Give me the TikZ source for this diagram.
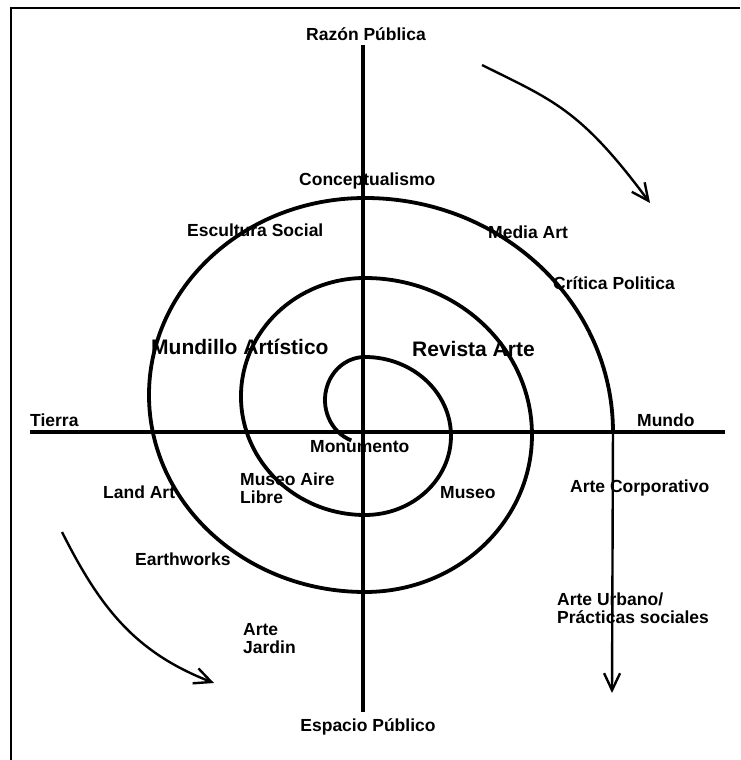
\documentclass[tikz,border=0pt]{standalone}
\usepackage{fontspec}
\setmainfont{Liberation Sans}
\usetikzlibrary{arrows.meta}
\tikzset{
  lbl/.style={inner sep=0pt, font=\fontsize{17.5}{18}\selectfont\bfseries, align=left},
  biglbl/.style={inner sep=0pt, font=\fontsize{21}{22}\selectfont\bfseries},
  axis/.style={line width=3.2pt},
  spiralline/.style={line width=3.8pt},
  flow/.style={line width=2.4pt, -{Straight Barb[length=17pt,width=16pt,line width=2.4pt]}},
  frameline/.style={line width=2pt}
}
\begin{document}
\begin{tikzpicture}[x=1pt,y=-1pt]
\useasboundingbox (0,0) rectangle (740,760);
% frame (top and left)
\coordinate (fa) at (11,760);
\coordinate (fb) at (11,8);
\coordinate (fc) at (740,8);
\draw[frameline] (fa) -- (fb) -- (fc);
% axes
\coordinate (vtop) at (363,45);
\coordinate (vbot) at (363,712);
\coordinate (hl) at (30,432);
\coordinate (hr) at (725,432);
\draw[axis] (vtop) -- (vbot);
\draw[axis] (hl) -- (hr);
% spiral
\coordinate (s0) at (351.3,440.4);
\draw[spiralline] (s0)
  arc[start angle=110, end angle=270, x radius=40, y radius=43]
  arc[start angle=-90, end angle=90, x radius=86, y radius=79]
  arc[start angle=90, end angle=270, x radius=124, y radius=118.5]
  arc[start angle=-90, end angle=90, x radius=167, y radius=157]
  arc[start angle=90, end angle=270, x radius=216, y radius=197]
  arc[start angle=-90, end angle=0, x radius=248, y radius=234]
  coordinate (send);
\coordinate (vend) at (612,693);
\draw[flow] (send) -- (vend);
% curved arrows
\coordinate (a1s) at (482,65);
\coordinate (a1e) at (650,203);
\draw[flow] (a1s) .. controls (552,100) and (580,108.5) .. (a1e);
\coordinate (a2s) at (62,532);
\coordinate (a2e) at (214,683);
\draw[flow] (a2s) .. controls (100,607.6) and (135,652.4) .. (a2e);
% labels
\node[lbl, anchor=base] (razon) at (366,41) {Razón Pública};
\node[lbl, anchor=base] (espacio) at (368,731) {Espacio Público};
\node[lbl, anchor=base west] (tierra) at (30,426) {Tierra};
\node[lbl, anchor=base west] (mundo) at (637,426) {Mundo};
\node[lbl, anchor=base west] (concep) at (299,185) {Conceptualismo};
\node[lbl, anchor=base west] (escultura) at (187,236) {Escultura Social};
\node[lbl, anchor=base west] (media) at (488,238) {Media Art};
\node[lbl, anchor=base west] (critica) at (553,289) {Crítica Politica};
\node[biglbl, anchor=base west] (mundillo) at (151,354) {Mundillo Artístico};
\node[biglbl, anchor=base west] (revista) at (412,356) {Revista Arte};
\node[lbl, anchor=base west] (monumento) at (310,452) {Monumento};
\node[lbl, anchor=base west] (museoaire) at (240,503) {Museo Aire\\Libre};
\node[lbl, anchor=base west] (landart) at (103,498) {Land Art};
\node[lbl, anchor=base west] (museo) at (440,498) {Museo};
\node[lbl, anchor=base west] (corporativo) at (570,492) {Arte Corporativo};
\node[lbl, anchor=base west] (earthworks) at (135,565) {Earthworks};
\node[lbl, anchor=base west] (urbano) at (557,623) {Arte Urbano/\\Prácticas sociales};
\node[lbl, anchor=base west] (jardin) at (243,653) {Arte\\Jardin};
\end{tikzpicture}
\end{document}
